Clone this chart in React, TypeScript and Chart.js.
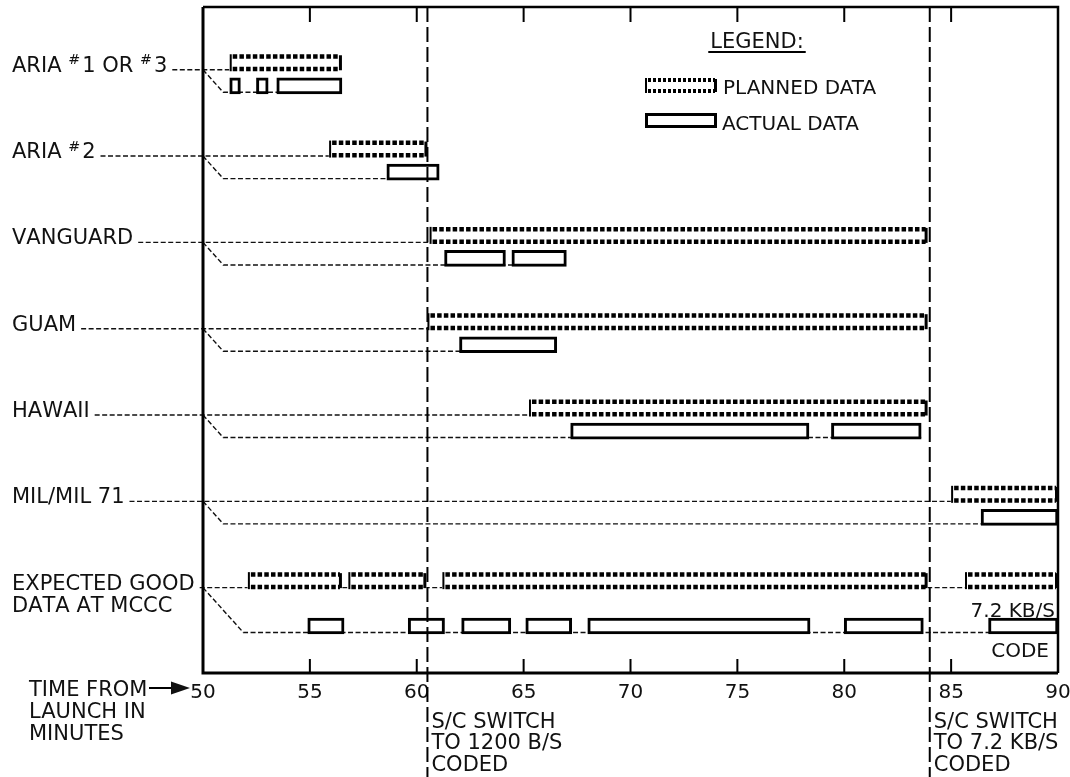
import React, { useEffect, useRef } from "react";
import { Chart, registerables } from "chart.js";

Chart.register(...registerables);

const W = 1070;
const H = 777;
const FAMILY = "'DejaVu Sans', sans-serif";

// ---------- data ----------
const stationLabels: string[][] = [
  ["ARIA #1 OR #3"],
  ["ARIA #2"],
  ["VANGUARD"],
  ["GUAM"],
  ["HAWAII"],
  ["MIL/MIL 71"],
  ["EXPECTED GOOD", "DATA AT MCCC"],
];

// planned coverage windows (minutes from launch), per station
const plannedWindows: number[][][] = [
  [[51.25, 56.5]],
  [[55.9, 60.5]],
  [[60.6, 83.9]],
  [[60.5, 83.9]],
  [[65.25, 83.9]],
  [[85.0, 90]],
  [[52.1, 56.5], [56.8, 60.45], [61.2, 83.9], [85.65, 90]],
];

// actual data windows (minutes from launch), per station
const actualWindows: number[][][] = [
  [[51.25, 51.75], [52.5, 53.05], [53.45, 56.5]],
  [[58.6, 61.05]],
  [[61.3, 64.15], [64.45, 67.0]],
  [[62.0, 66.55]],
  [[67.2, 78.35], [79.4, 83.6]],
  [[86.4, 90]],
  [[54.9, 56.6], [59.6, 61.3], [62.1, 64.4], [65.1, 67.25], [68.0, 78.4], [80.0, 83.7], [86.75, 90]],
];

const timeMin = 50;
const timeMax = 90;
const timeStep = 5;

const switchTimes = [60.5, 84.0];
const switchNotes: string[][] = [
  ["S/C SWITCH", "TO 1200 B/S", "CODED"],
  ["S/C SWITCH", "TO 7.2 KB/S", "CODED"],
];
const axisTitle = ["TIME FROM", "LAUNCH IN", "MINUTES"];
const legendTitle = "LEGEND:";
const legendItems = ["PLANNED DATA", "ACTUAL DATA"];
const rateNote = ["7.2 KB/S", "CODE"];

// ---------- layout helpers ----------
const Y_MIN = -0.646;
const Y_MAX = 7.07;
const PLANNED_T = 17;
const ACTUAL_T = 16;
const lastRow = stationLabels.length - 1;
const plannedRow = (i: number) => i;
const actualRow = (i: number) => i + (i === lastRow ? 0.525 : 0.267);

function font(size: number) {
  return `${size}px ${FAMILY}`;
}

// draws text; '#' is drawn as a small raised glyph; returns end x
function drawRich(ctx: CanvasRenderingContext2D, text: string, x: number, y: number, size: number) {
  let cx = x;
  for (const ch of text) {
    if (ch === "#") {
      ctx.font = font(size * 0.68);
      ctx.fillText("#", cx, y - size * 0.36);
      cx += ctx.measureText("#").width + 2;
    } else {
      ctx.font = font(size);
      ctx.fillText(ch, cx, y);
      cx += ctx.measureText(ch).width;
    }
  }
  return cx;
}

function measureRich(ctx: CanvasRenderingContext2D, text: string, size: number) {
  let w = 0;
  for (const ch of text) {
    if (ch === "#") {
      ctx.font = font(size * 0.68);
      w += ctx.measureText("#").width + 2;
    } else {
      ctx.font = font(size);
      w += ctx.measureText(ch).width;
    }
  }
  return w;
}

function drawPlannedBox(
  ctx: CanvasRenderingContext2D,
  x0: number,
  top: number,
  x1: number,
  bot: number,
  dash: number[],
  rowW: number
) {
  ctx.save();
  ctx.fillStyle = "#fff";
  ctx.fillRect(x0, top, x1 - x0, bot - top);
  ctx.strokeStyle = "#000";
  ctx.lineWidth = rowW;
  ctx.setLineDash(dash);
  ctx.beginPath();
  ctx.moveTo(x0 + 3, top + rowW / 2);
  ctx.lineTo(x1 - 2, top + rowW / 2);
  ctx.moveTo(x0 + 3, bot - rowW / 2);
  ctx.lineTo(x1 - 2, bot - rowW / 2);
  ctx.stroke();
  ctx.setLineDash([]);
  ctx.lineWidth = 2;
  ctx.beginPath();
  ctx.moveTo(x0 + 1, top);
  ctx.lineTo(x0 + 1, bot);
  ctx.stroke();
  ctx.lineWidth = 3;
  ctx.beginPath();
  ctx.moveTo(x1 - 1.5, top + 1);
  ctx.lineTo(x1 - 1.5, bot - 1);
  ctx.stroke();
  ctx.restore();
}

const LABEL_SIZE = 21;

const decor = {
  id: "ganttDecor",
  beforeDatasetsDraw(chart: any) {
    const ctx: CanvasRenderingContext2D = chart.ctx;
    const xs = chart.scales.x;
    const ys = chart.scales.y;
    const ca = chart.chartArea;
    ctx.save();
    ctx.strokeStyle = "#111";
    ctx.lineWidth = 1.4;
    ctx.setLineDash([5, 2.5]);
    stationLabels.forEach((lines, i) => {
      const pBot = ys.getPixelForValue(plannedRow(i)) + PLANNED_T / 2 - 1.5;
      const aBot = ys.getPixelForValue(actualRow(i)) + ACTUAL_T / 2 - 1.5;
      const pEnd = xs.getPixelForValue(Math.max(...plannedWindows[i].map((w) => w[1])));
      const aEnd = xs.getPixelForValue(Math.max(...actualWindows[i].map((w) => w[1])));
      const textEnd = 12 + measureRich(ctx, lines[0], LABEL_SIZE);
      ctx.beginPath();
      ctx.moveTo(textEnd + 5, pBot);
      ctx.lineTo(pEnd, pBot);
      ctx.stroke();
      const dx = (aBot - pBot) * 0.9;
      ctx.beginPath();
      ctx.moveTo(ca.left, pBot);
      ctx.lineTo(ca.left + dx, aBot);
      ctx.lineTo(aEnd, aBot);
      ctx.stroke();
    });
    ctx.restore();
  },
  afterDatasetsDraw(chart: any) {
    const ctx: CanvasRenderingContext2D = chart.ctx;
    const xs = chart.scales.x;
    const ys = chart.scales.y;
    const ca = chart.chartArea;

    // planned boxes (dashed outline)
    const meta = chart.getDatasetMeta(0);
    meta.data.forEach((el: any) => {
      const p = el.getProps(["x", "y", "base", "height"], true);
      const x0 = Math.min(p.x, p.base);
      const x1 = Math.max(p.x, p.base);
      drawPlannedBox(ctx, x0, p.y - p.height / 2, x1, p.y + p.height / 2, [4.5, 2.2], 4.5);
    });

    ctx.save();
    ctx.fillStyle = "#111";
    ctx.strokeStyle = "#000";

    // station labels
    ctx.textBaseline = "alphabetic";
    stationLabels.forEach((lines, i) => {
      const pBot = ys.getPixelForValue(plannedRow(i)) + PLANNED_T / 2;
      lines.forEach((ln, k) => {
        drawRich(ctx, ln, 12, pBot + 0.5 + k * 22, LABEL_SIZE);
      });
    });

    // inward tick marks (top and bottom)
    ctx.lineWidth = 2;
    ctx.setLineDash([]);
    xs.ticks.forEach((t: any) => {
      if (t.value <= timeMin || t.value >= timeMax) return;
      const px = xs.getPixelForValue(t.value);
      ctx.beginPath();
      ctx.moveTo(px, ca.top);
      ctx.lineTo(px, ca.top + 15);
      ctx.moveTo(px, ca.bottom);
      ctx.lineTo(px, ca.bottom - 14);
      ctx.stroke();
    });

    // switch lines
    ctx.lineWidth = 2;
    ctx.setLineDash([15, 5]);
    switchTimes.forEach((t, j) => {
      const px = xs.getPixelForValue(t);
      ctx.beginPath();
      ctx.moveTo(px, ca.top);
      ctx.lineTo(px, H);
      ctx.stroke();
      ctx.font = font(LABEL_SIZE);
      switchNotes[j].forEach((ln, k) => {
        ctx.fillText(ln, px + 4, 727.5 + k * 21.5);
      });
    });
    ctx.setLineDash([]);

    // frame
    ctx.lineWidth = 3;
    ctx.beginPath();
    ctx.moveTo(ca.left, ca.top);
    ctx.lineTo(ca.left, ca.bottom);
    ctx.lineTo(ca.right, ca.bottom);
    ctx.stroke();
    ctx.lineWidth = 2.5;
    ctx.beginPath();
    ctx.moveTo(ca.left, ca.top);
    ctx.lineTo(ca.right, ca.top);
    ctx.lineTo(ca.right, ca.bottom);
    ctx.stroke();

    // axis title with arrow
    ctx.font = font(LABEL_SIZE);
    axisTitle.forEach((ln, k) => {
      ctx.fillText(ln, 29, 696 + k * 22);
    });
    const ay = 688;
    ctx.lineWidth = 2;
    ctx.beginPath();
    ctx.moveTo(149, ay);
    ctx.lineTo(175, ay);
    ctx.stroke();
    ctx.beginPath();
    ctx.moveTo(171, ay - 6.5);
    ctx.lineTo(190, ay);
    ctx.lineTo(171, ay + 6.5);
    ctx.closePath();
    ctx.fill();

    // legend
    ctx.font = font(LABEL_SIZE);
    ctx.textAlign = "center";
    ctx.fillText(legendTitle, 757, 48);
    const lw = ctx.measureText(legendTitle).width;
    ctx.lineWidth = 1.8;
    ctx.beginPath();
    ctx.moveTo(757 - lw / 2 - 2, 52);
    ctx.lineTo(757 + lw / 2 + 2, 52);
    ctx.stroke();
    ctx.textAlign = "left";
    ctx.font = font(20);
    drawPlannedBox(ctx, 645, 78, 717, 93, [3, 2], 4);
    ctx.fillStyle = "#111";
    ctx.fillText(legendItems[0], 723, 93.5);
    ctx.lineWidth = 3;
    ctx.strokeRect(646.5, 114.5, 69, 12);
    ctx.fillText(legendItems[1], 722, 129.5);

    // rate note around last actual window
    ctx.textAlign = "right";
    ctx.font = font(20);
    const rx = xs.getPixelForValue(timeMax);
    ctx.fillText(rateNote[0], rx - 3, 617);
    ctx.fillText(rateNote[1], rx - 9, 657);
    ctx.restore();
  },
};

export default function App() {
  const ref = useRef<HTMLCanvasElement>(null);
  useEffect(() => {
    const canvas = ref.current;
    if (!canvas) return;
    const plannedPoints = plannedWindows.flatMap((ws, i) =>
      ws.map((w) => ({ x: [w[0], w[1]], y: plannedRow(i) }))
    );
    const actualPoints = actualWindows.flatMap((ws, i) =>
      ws.map((w) => ({ x: [w[0], w[1]], y: actualRow(i) }))
    );
    const chart = new Chart(canvas, {
      type: "bar",
      data: {
        datasets: [
          {
            label: legendItems[0],
            data: plannedPoints as any,
            backgroundColor: "#fff",
            borderWidth: 0,
            barThickness: PLANNED_T,
            grouped: false,
          } as any,
          {
            label: legendItems[1],
            data: actualPoints as any,
            backgroundColor: "#fff",
            borderColor: "#000",
            borderWidth: 3,
            borderSkipped: false,
            barThickness: ACTUAL_T,
            grouped: false,
          } as any,
        ],
      },
      options: {
        indexAxis: "y",
        responsive: false,
        animation: false,
        devicePixelRatio: 1,
        layout: { padding: { left: 203, right: 12, top: 7, bottom: 0 } },
        plugins: {
          legend: { display: false },
          tooltip: { enabled: false },
        },
        scales: {
          x: {
            type: "linear",
            position: "bottom",
            min: timeMin,
            max: timeMax,
            grid: { display: false, drawTicks: false },
            border: { display: false },
            ticks: {
              stepSize: timeStep,
              autoSkip: false,
              maxRotation: 0,
              padding: 8,
              color: "#111",
              font: { family: "DejaVu Sans", size: 20 },
            },
            afterFit(s: any) {
              s.height = 104;
              s.paddingLeft = 0;
              s.paddingRight = 0;
            },
          },
          y: {
            type: "linear",
            min: Y_MIN,
            max: Y_MAX,
            reverse: true,
            offset: false,
            display: false,
          },
        },
      } as any,
      plugins: [decor],
    });
    return () => chart.destroy();
  }, []);
  return (
    <div style={{ position: "absolute", left: 0, top: 0, width: W, height: H, background: "#fff" }}>
      <canvas ref={ref} width={W} height={H} style={{ display: "block" }} />
    </div>
  );
}
